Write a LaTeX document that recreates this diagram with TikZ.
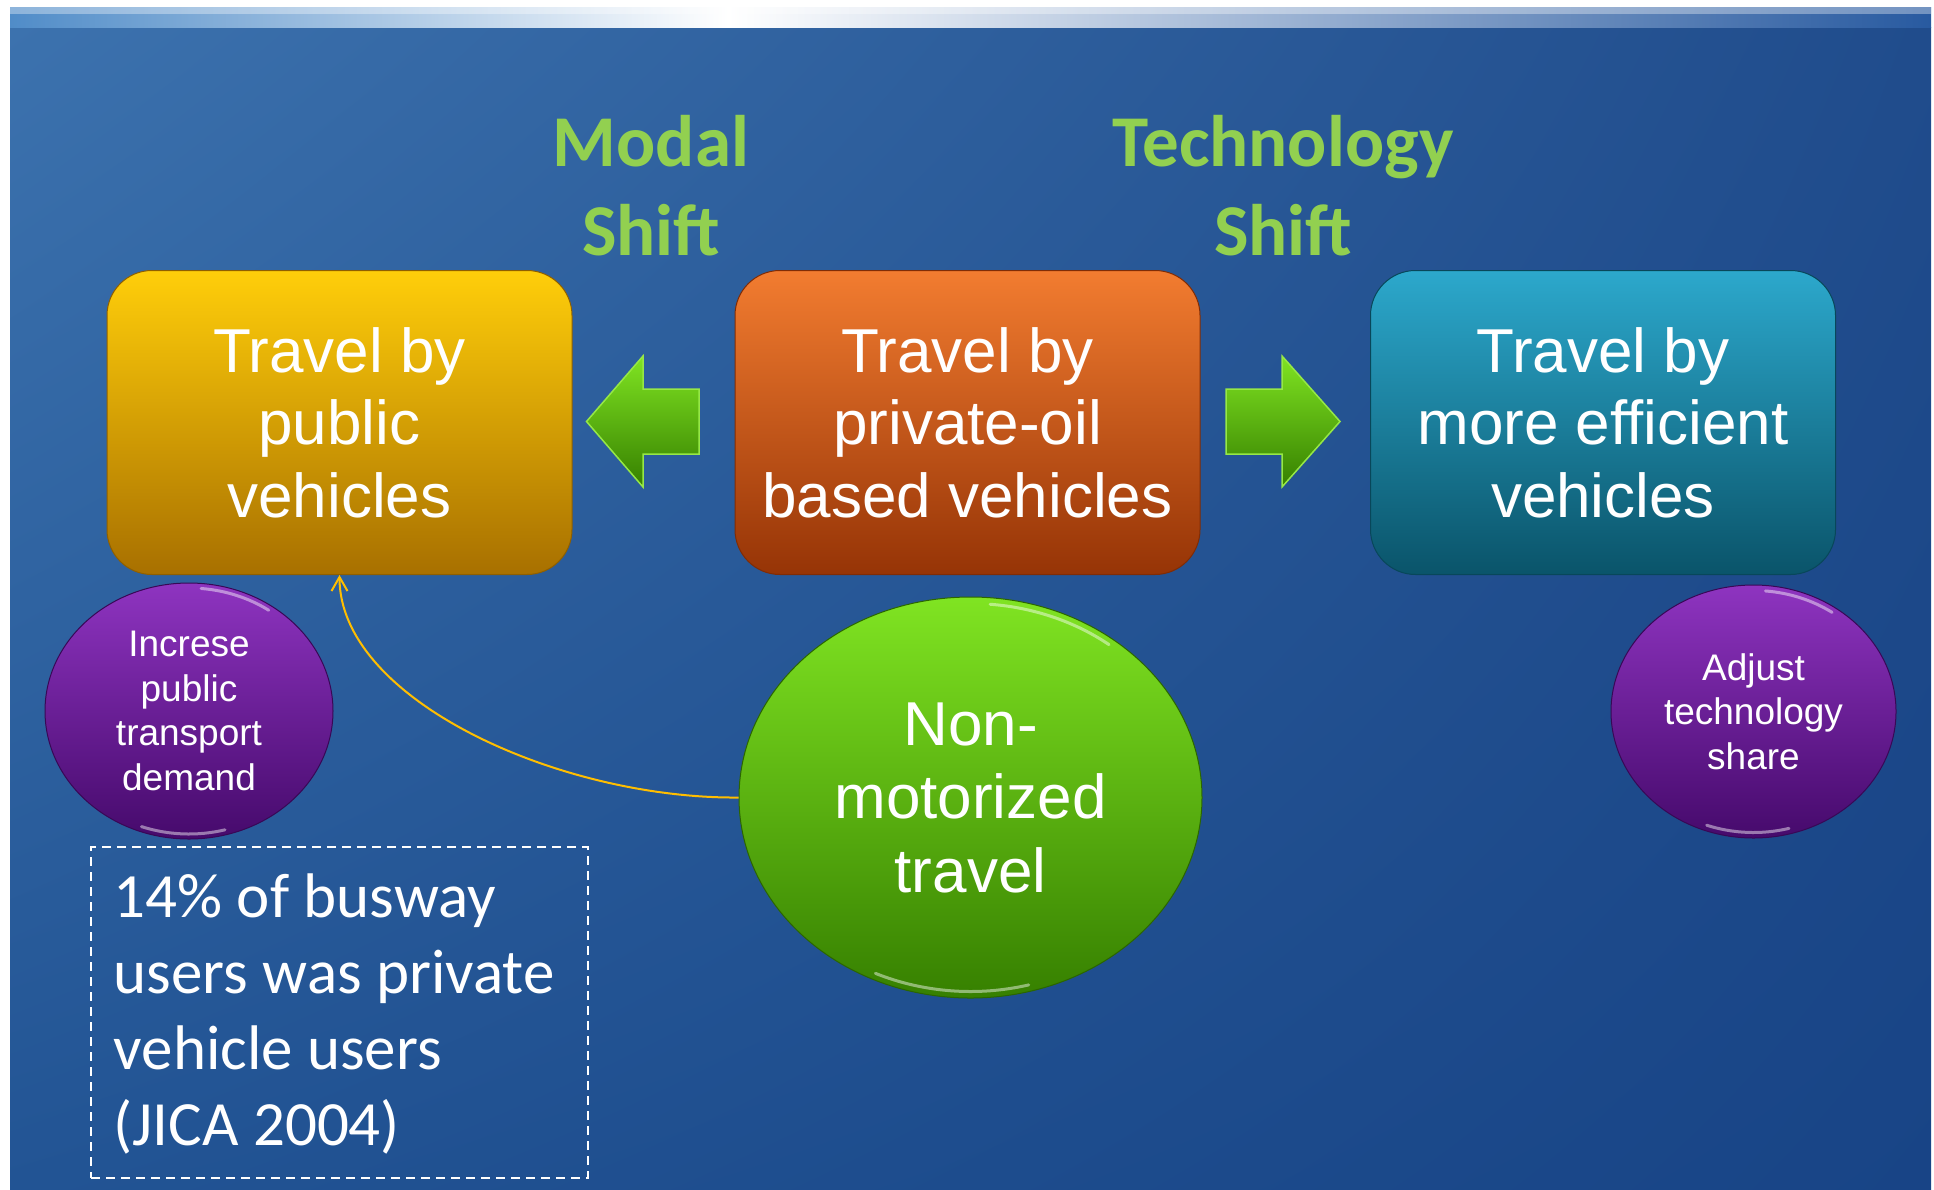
\documentclass[tikz,border=0pt]{standalone}
\usepackage{fontspec}
\setmainfont{Liberation Sans}
\newfontfamily\calibri{Carlito}
\usetikzlibrary{arrows.meta,shapes.geometric,shadings}

% background
\definecolor{bgUL}{RGB}{60,114,174}
\definecolor{bgUR}{RGB}{32,76,140}
\definecolor{bgLL}{RGB}{34,84,148}
\definecolor{bgLR}{RGB}{24,68,134}
\definecolor{bandL}{RGB}{80,140,200}
\definecolor{bandR}{RGB}{40,90,160}
% titles
\definecolor{titlegreen}{RGB}{146,208,80}
% boxes
\definecolor{pubTop}{RGB}{255,206,10}
\definecolor{pubMid}{RGB}{242,172,0}
\definecolor{pubBot}{RGB}{168,112,0}
\definecolor{oilTop}{RGB}{242,124,48}
\definecolor{oilMid}{RGB}{206,84,16}
\definecolor{oilBot}{RGB}{150,52,6}
\definecolor{effTop}{RGB}{44,168,204}
\definecolor{effMid}{RGB}{20,124,156}
\definecolor{effBot}{RGB}{10,84,106}
% ellipses and block arrows
\definecolor{limeTop}{RGB}{128,228,34}
\definecolor{limeBot}{RGB}{54,128,0}
\definecolor{limeEdge}{RGB}{150,232,70}
\definecolor{purpTop}{RGB}{142,52,192}
\definecolor{purpBot}{RGB}{70,10,108}
\definecolor{linkyellow}{RGB}{255,190,0}

\tikzset{
  travelbox/.style={rounded corners=45pt, minimum width=465pt, minimum height=304pt,
    inner sep=0pt, align=center, text=white,
    font=\fontsize{62}{72.5}\selectfont},
  bigoval/.style={ellipse, inner sep=0pt, align=center, text=white,
    top color=limeTop, bottom color=limeBot, draw=limeBot!80!black, line width=1pt,
    font=\fontsize{62}{73.5}\selectfont},
  smalloval/.style={ellipse, inner sep=0pt, align=center, text=white,
    top color=purpTop, bottom color=purpBot, draw=purpBot!80!black, line width=1pt,
    font=\fontsize{37}{44.5}\selectfont},
  shifttitle/.style={anchor=base, inner sep=0pt, text=titlegreen,
    font=\calibri\bfseries\fontsize{73}{89}\selectfont},
  blockarrow/.style={top color=limeTop, bottom color=limeBot, draw=limeEdge, line width=1.5pt},
  gloss/.style={white, line width=3pt, opacity=0.45, line cap=round},
}

\begin{document}
\begin{tikzpicture}[x=1pt,y=-1pt]
\useasboundingbox (0,0) rectangle (1934,1189);
\fill[white] (0,0) rectangle (1934,1189);

% slide background with its bright rim along the top
\shade[upper left=bgUL, upper right=bgUR, lower left=bgLL, lower right=bgLR]
  (10,27) rectangle (1931,1189);
\shade[left color=bandL, right color=white] (10,7) rectangle (728,27);
\shade[left color=white, right color=bandR] (728,7) rectangle (1931,27);
\fill[white, opacity=0.35] (10,7) rectangle (1931,14);

% headings
\node[shifttitle] (modal) at (651,166) {\parbox[t]{300pt}{\centering Modal\\Shift}};
\node[shifttitle] (tech) at (1283,166) {\parbox[t]{400pt}{\centering Technology\\Shift}};

% travel modes
\node[travelbox, top color=pubTop, middle color=pubMid, bottom color=pubBot,
      draw=pubBot!85!black, line width=1pt] (public) at (339.5,422.5)
  {Travel by\\public\\vehicles};
\node[travelbox, top color=oilTop, middle color=oilMid, bottom color=oilBot,
      draw=oilBot!85!black, line width=1pt] (private) at (967.5,422.5)
  {Travel by\\private-oil\\based vehicles};
\node[travelbox, top color=effTop, middle color=effMid, bottom color=effBot,
      draw=effBot!85!black, line width=1pt] (efficient) at (1603,422.5)
  {Travel by\\more efficient\\vehicles};

% shift arrows
\path[blockarrow] (586.5,421.5) -- (643,356) -- (643,389) -- (699,389)
  -- (699,454) -- (643,454) -- (643,487) -- cycle;
\path[blockarrow] (1340,421.5) -- (1282,356) -- (1282,389) -- (1226,389)
  -- (1226,454) -- (1282,454) -- (1282,487) -- cycle;

% measures and non-motorized travel
\node[smalloval, minimum width=288pt, minimum height=256pt] (demand) at (189,711)
  {Increse\\public\\transport\\demand};
\node[smalloval, minimum width=285pt, minimum height=253pt] (share) at (1753.5,711.5)
  {Adjust\\technology\\share};
\node[bigoval, minimum width=463pt, minimum height=401pt] (nmt) at (970.5,797.5)
  {Non-\\motorized\\travel};

% glossy rims, just inside each outline (radii in pt, so angles follow the page)
\draw[gloss] (demand.center) ++(55:139pt and 123pt) arc[start angle=55, end angle=85, x radius=139pt, y radius=123pt];
\draw[gloss] (demand.center) ++(250:139pt and 123pt) arc[start angle=250, end angle=285, x radius=139pt, y radius=123pt];
\draw[gloss] (share.center) ++(55:137pt and 121pt) arc[start angle=55, end angle=85, x radius=137pt, y radius=121pt];
\draw[gloss] (share.center) ++(250:137pt and 121pt) arc[start angle=250, end angle=285, x radius=137pt, y radius=121pt];
\draw[gloss] (nmt.center) ++(52:225pt and 194pt) arc[start angle=52, end angle=85, x radius=225pt, y radius=194pt];
\draw[gloss] (nmt.center) ++(245:225pt and 194pt) arc[start angle=245, end angle=285, x radius=225pt, y radius=194pt];

% link from non-motorized travel to public transport
\draw[linkyellow, line width=2pt, -{Straight Barb[length=14pt, width=16pt, line width=2pt]}]
  (nmt.west) .. controls (560,799) and (339.5,700) .. (public.south);

% survey note
\node[draw=white, dashed, dash pattern=on 9pt off 6pt, line width=2pt,
      minimum width=497pt, minimum height=331pt, inner sep=0pt, anchor=north west]
  (notebox) at (90,846) {};
\node[anchor=base west, inner sep=0pt, text=white,
      font=\calibri\fontsize{63}{76}\selectfont] (notetext) at (113.6,917)
  {\parbox[t]{470pt}{14\% of busway\\users was private\\vehicle users\\(JICA 2004)}};
\end{tikzpicture}
\end{document}
